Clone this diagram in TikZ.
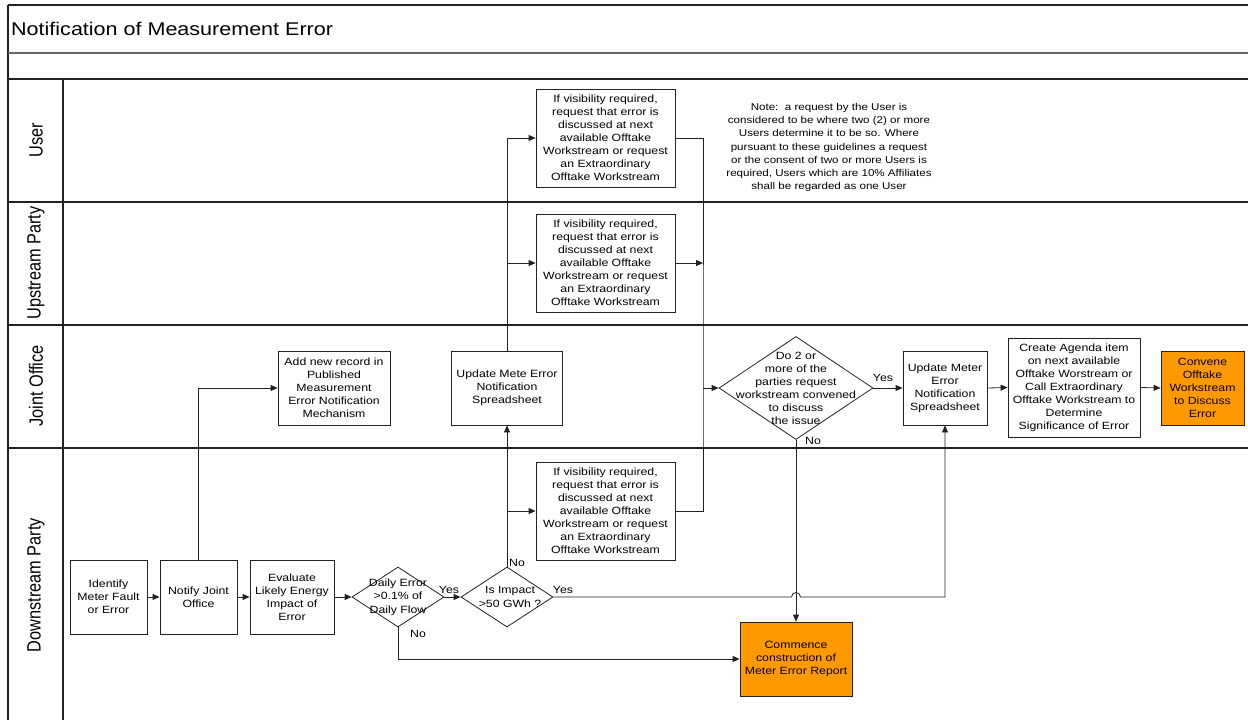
\documentclass[tikz,border=0pt]{standalone}
\usepackage{fontspec}
\setmainfont[FakeStretch=1.17]{Liberation Sans}
\newfontfamily\lanefont[FakeStretch=0.85]{Liberation Sans}
\usetikzlibrary{arrows.meta,shapes.geometric,calc}
\definecolor{hotfill}{HTML}{FF9900}
\definecolor{linec}{HTML}{222222}
\begin{document}
\begin{tikzpicture}[x=1pt,y=-1pt,
  box/.style={draw=linec, line width=0.8pt, rectangle, inner sep=0pt, align=center, font=\fontsize{10.5}{13}\selectfont},
  hot/.style={box, fill=hotfill},
  dia/.style={draw=linec, line width=0.8pt, diamond, inner sep=0pt},
  dtxt/.style={align=center, inner sep=0pt, font=\fontsize{10.5}{13.4}\selectfont},
  lbl/.style={font=\fontsize{10.5}{13}\selectfont, inner sep=0pt},
  conn/.style={draw=linec, line width=0.8pt},
  arr/.style={conn, -{Triangle[length=7pt,width=6pt]}},
  lane/.style={draw=linec, line width=1.3pt},
  lanetxt/.style={rotate=90, inner sep=0pt, font=\lanefont\fontsize{19.2}{20}\selectfont},
]
\useasboundingbox (0,0) rectangle (1248,720);
\fill[white] (0,0) rectangle (1248,720);
% frame and lanes
\draw[lane] (8,5) -- (1248,5);
\draw[lane] (8,5) -- (8,720);
\draw[lane, draw=black!60] (8,53) -- (1248,53);
\draw[lane] (8,79) -- (1248,79);
\draw[lane] (8,202) -- (1248,202);
\draw[lane] (8,325) -- (1248,325);
\draw[lane] (8,448) -- (1248,448);
\draw[lane] (63,79) -- (63,720);
\node[anchor=base west, inner sep=0pt, font=\fontsize{18.4}{20}\selectfont] (title) at (11,35.7) {Notification of Measurement Error};
\node[lanetxt] (lUser) at (36,140) {User};
\node[lanetxt] (lUp) at (36,263) {Upstream Party};
\node[lanetxt] (lJO) at (36,386) {Joint Office};
\node[lanetxt] (lDown) at (36,585) {Downstream Party};
% nodes
\node[box, minimum width=77pt, minimum height=74pt] (ident) at (108.5,597) {Identify\\Meter Fault\\or Error};
\node[box, minimum width=77pt, minimum height=74pt] (notify) at (198.5,597) {Notify Joint\\Office};
\node[box, minimum width=84pt, minimum height=74pt] (eval) at (292,597) {Evaluate\\Likely Energy\\Impact of\\Error};
\node[dia, minimum width=92pt, minimum height=60pt] (daily) at (398,597) {};
\node[dtxt] (dailyt) at (398,597) {Daily Error\\>0.1\% of\\Daily Flow};
\node[dia, minimum width=92pt, minimum height=60pt] (impact) at (507,597) {};
\node[dtxt] (impactt) at (510,597) {Is Impact\\>50 GWh ?};
\node[box, minimum width=112pt, minimum height=74pt] (addrec) at (334,388) {Add new record in\\Published\\Measurement\\Error Notification\\Mechanism};
\node[box, minimum width=111pt, minimum height=74pt] (update1) at (507,388) {Update Mete Error\\Notification\\Spreadsheet};
\node[box, minimum width=139pt, minimum height=98pt] (user) at (605.5,138) {If visibility required,\\request that error is\\discussed at next\\available Offtake\\Workstream or request\\an Extraordinary\\Offtake Workstream};
\node[box, minimum width=139pt, minimum height=98pt] (ups) at (605.5,263) {If visibility required,\\request that error is\\discussed at next\\available Offtake\\Workstream or request\\an Extraordinary\\Offtake Workstream};
\node[box, minimum width=139pt, minimum height=98pt] (mid) at (605.5,511) {If visibility required,\\request that error is\\discussed at next\\available Offtake\\Workstream or request\\an Extraordinary\\Offtake Workstream};
\node[align=center, inner sep=0pt, font=\fontsize{9.9}{13.2}\selectfont] (note) at (829,147.5) {Note:\ \ a request by the User is\\considered to be where two (2) or more\\Users determine it to be so. Where\\pursuant to these guidelines a request\\or the consent of two or more Users is\\required, Users which are 10\% Affiliates\\shall be regarded as one User};
\node[dia, minimum width=154pt, minimum height=103pt] (do2) at (796,388) {};
\node[dtxt, font=\fontsize{10.5}{13}\selectfont] (do2t) at (796,388) {Do 2 or\\more of the\\parties request\\workstream convened\\to discuss\\the issue};
\node[box, minimum width=84pt, minimum height=74pt] (update2) at (945,388) {Update Meter\\Error\\Notification\\Spreadsheet};
\node[box, minimum width=132pt, minimum height=99pt] (agenda) at (1074,387.5) {Create Agenda item\\on next available\\Offtake Worstream or\\Call Extraordinary\\Offtake Workstream to\\Determine\\Significance of Error};
\node[hot, minimum width=83pt, minimum height=74pt] (convene) at (1202.5,388) {Convene\\Offtake\\Workstream\\to Discuss\\Error};
\node[hot, minimum width=112pt, minimum height=74pt] (commence) at (796,659) {Commence\\construction of\\Meter Error Report};
% connectors
\draw[arr] (ident.east) -- (notify.west);
\draw[arr] (notify.east) -- (eval.west);
\draw[arr] (eval.east) -- (daily.west);
\draw[arr] (daily.east) -- (impact.west);
\draw[arr] (daily.south) |- (commence.west);
\draw[arr] (notify.north) |- (addrec.west);
\draw[arr] (impact.north) -- (update1.south);
\draw[arr] (update1.north) |- (user.west);
\draw[arr] (update1.north |- ups.west) -- (ups.west);
\draw[arr] (impact.north |- mid.west) -- (mid.west);
\coordinate (rx) at (703,388);
\draw[conn] (user.east) -| (rx) |- (mid.east);
\draw[arr] (ups.east) -- (ups.east -| rx);
\draw[arr] (rx) -- (do2.west);
\draw[arr] (do2.east) -- (update2.west);
\draw[arr] (update2.east) -- (agenda.west);
\draw[arr] (agenda.east) -- (convene.west);
\draw[arr] (do2.south) -- (commence.north);
\coordinate (hop) at (do2.south |- impact.east);
\draw[arr] (impact.east) -- ($(hop)+(-4.5,0)$) .. controls ($(hop)+(-4.5,-6)$) and ($(hop)+(4.5,-6)$) .. ($(hop)+(4.5,0)$) -- (update2.south |- impact.east) -- (update2.south);
% labels
\node[lbl] (y1) at (449,590) {Yes};
\node[lbl] (n1) at (418,634) {No};
\node[lbl] (n2) at (517,563) {No};
\node[lbl] (y2) at (563,590) {Yes};
\node[lbl] (y3) at (883,378) {Yes};
\node[lbl] (n3) at (813,441) {No};
\end{tikzpicture}
\end{document}
